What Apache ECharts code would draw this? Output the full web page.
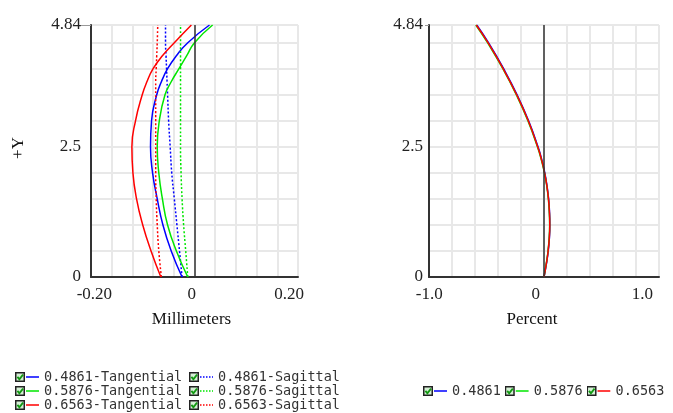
<!DOCTYPE html>
<html>
<head>
<meta charset="utf-8">
<script src="https://cdn.jsdelivr.net/npm/echarts@6/dist/echarts.min.js"></script>
<style>
  html, body { margin: 0; padding: 0; background: #fff; }
  #main { width: 673px; height: 413px; }
</style>
</head>
<body>
<div id="main"></div>
<script>
// field heights (+Y), shared by the field curvature curves
var fieldY = [0, 0.5, 1.0, 1.5, 2.0, 2.5, 3.0, 3.5, 3.75, 4.0, 4.25, 4.5, 4.84];

// field curvature, millimeters
var tan4861 = [-0.024, -0.045, -0.061, -0.072, -0.081, -0.085, -0.083, -0.073, -0.064, -0.052, -0.035, -0.013, 0.029];
var sag4861 = [-0.024, -0.029, -0.034, -0.039, -0.044, -0.047, -0.050, -0.052, -0.053, -0.054, -0.055, -0.056, -0.056];
var tan5876 = [-0.013, -0.035, -0.052, -0.062, -0.069, -0.072, -0.068, -0.057, -0.045, -0.030, -0.015, 0.000, 0.035];
var sag5876 = [-0.013, -0.017, -0.021, -0.024, -0.026, -0.027, -0.027, -0.027, -0.027, -0.027, -0.027, -0.027, -0.027];
var tan6563 = [-0.065, -0.084, -0.100, -0.112, -0.119, -0.121, -0.114, -0.101, -0.092, -0.080, -0.062, -0.039, -0.006];
var sag6563 = [-0.064, -0.069, -0.072, -0.074, -0.075, -0.075, -0.075, -0.075, -0.075, -0.074, -0.073, -0.072, -0.071];

// distortion, percent
var distY = [0, 0.25, 0.5, 0.75, 1.0, 1.25, 1.5, 1.75, 2.0, 2.25, 2.5, 3.0, 3.5, 4.0, 4.5, 4.84];
var dist4861 = [0, 0.021, 0.037, 0.047, 0.051, 0.048, 0.040, 0.026, 0.007, -0.019, -0.052, -0.134, -0.234, -0.351, -0.483, -0.585];
var dist5876 = [0, 0.019, 0.035, 0.045, 0.049, 0.046, 0.038, 0.024, 0.004, -0.023, -0.057, -0.140, -0.241, -0.358, -0.491, -0.593];
var dist6563 = [0, 0.020, 0.036, 0.046, 0.050, 0.047, 0.039, 0.025, 0.005, -0.021, -0.055, -0.137, -0.238, -0.355, -0.487, -0.589];

// tick labels
var yTicks = [0, 2.5, 4.84];
var mmTicks = [-0.2, 0, 0.2];
var pctTicks = [-1.0, 0, 1.0];

var BLUE = '#0000ff', GREEN = '#00e600', RED = '#ff0000';
var SERIF = 'Liberation Serif';

function pairs(xs, ys) {
	return ys.map(function(y, i) { return [xs[i], y]; });
}

// checkbox + line sample, as legend icon
function legendIcon(color, dotted) {
	var dash = dotted ? " stroke-dasharray='1.5,1.5'" : '';
	var svg = "<svg xmlns='http://www.w3.org/2000/svg' width='24' height='10'>" +
		"<rect x='0.75' y='0.75' width='8.5' height='8.5' fill='#d6f0d6' stroke='#222' stroke-width='1.5'/>" +
		"<path d='M2.4 4.8 L4.4 7.2 L8 2.6' fill='none' stroke='#119911' stroke-width='1.8'/>" +
		"<line x1='11' y1='5' x2='24' y2='5' stroke='" + color + "' stroke-width='1.5'" + dash + "/>" +
		"</svg>";
	return 'image://data:image/svg+xml;charset=utf-8,' + encodeURIComponent(svg);
}

function lineSeries(name, xi, xs, ys, color, dotted) {
	return {
		name: name,
		type: 'line',
		xAxisIndex: xi,
		yAxisIndex: xi === 0 ? 0 : 1,
		data: pairs(xs, ys),
		showSymbol: false,
		smooth: true,
		itemStyle: { color: color },
		lineStyle: { color: color, width: 1.5, type: dotted ? [2, 2] : 'solid' }
	};
}

function gridX(gridIndex, min, max, interval) {
	return {
		gridIndex: gridIndex, type: 'value', min: min, max: max, interval: interval,
		axisLine: { show: true, onZero: false, lineStyle: { color: '#333', width: 2 } },
		axisTick: { show: false },
		axisLabel: { show: false },
		splitLine: { show: true, lineStyle: { color: '#e8e8e8', width: 2 } }
	};
}

// axis only for the labels, its range is stretched to put labels where the original has them
function labelX(gridIndex, min, max, ticks, digits, name, shift) {
	return {
		gridIndex: gridIndex, type: 'value', position: 'bottom', min: min, max: max,
		axisLine: { show: false, onZero: false },
		axisTick: { show: false },
		splitLine: { show: false },
		axisLabel: {
			customValues: ticks, margin: 9,
			fontFamily: SERIF, fontSize: 17, color: '#222',
			formatter: function(v) {
				for (var i = 0; i < ticks.length; i++) {
					if (Math.abs(v - ticks[i]) < 1e-9) {
						return ticks[i] === 0 ? '0' : ticks[i].toFixed(digits);
					}
				}
				return '';
			}
		},
		name: name, nameLocation: 'middle', nameGap: 34,
		nameTextStyle: { fontFamily: SERIF, fontSize: 17, color: '#111', padding: [0, shift, 0, 0] }
	};
}

function gridY(gridIndex, margin) {
	return {
		gridIndex: gridIndex, type: 'value', position: 'left', min: 0, max: 4.84, interval: 0.5,
		axisLine: { show: true, onZero: false, lineStyle: { color: '#333', width: 2 } },
		axisTick: { show: false },
		axisLabel: {
			customValues: yTicks, margin: margin,
			fontFamily: SERIF, fontSize: 17, color: '#222',
			formatter: function(v) {
				return yTicks.indexOf(v) >= 0 ? String(v) : '';
			}
		},
		splitLine: { show: true, lineStyle: { color: '#e8e8e8', width: 2 } }
	};
}

// the short gray tick at the top value only
function tickY(gridIndex, len) {
	return {
		gridIndex: gridIndex, type: 'value', position: 'left', min: 0, max: 4.84,
		axisLine: { show: false, onZero: false },
		axisTick: { show: true, customValues: [4.84], length: len, lineStyle: { color: '#999', width: 1 } },
		axisLabel: { show: false },
		splitLine: { show: false }
	};
}

var zeroLine = {
	silent: true, symbol: 'none', animation: false,
	label: { show: false },
	lineStyle: { color: '#333', width: 1.5, type: 'solid' },
	data: [{ xAxis: 0 }]
};

var series = [
	lineSeries('0.4861-Tangential', 0, tan4861, fieldY, BLUE, false),
	lineSeries('0.4861-Sagittal', 0, sag4861, fieldY, BLUE, true),
	lineSeries('0.5876-Tangential', 0, tan5876, fieldY, GREEN, false),
	lineSeries('0.5876-Sagittal', 0, sag5876, fieldY, GREEN, true),
	lineSeries('0.6563-Tangential', 0, tan6563, fieldY, RED, false),
	lineSeries('0.6563-Sagittal', 0, sag6563, fieldY, RED, true),
	lineSeries('0.4861', 2, dist4861, distY, BLUE, false),
	lineSeries('0.5876', 2, dist5876, distY, GREEN, false),
	lineSeries('0.6563', 2, dist6563, distY, RED, false)
];
series[0].markLine = zeroLine;
series[6].markLine = zeroLine;

var legendText = { fontFamily: 'DejaVu Sans Mono', fontSize: 13.5, color: '#333', lineHeight: 14 };

function legendData(names, colors, dotted) {
	return names.map(function(n, i) {
		return { name: n, icon: legendIcon(colors[i], dotted) };
	});
}

var yName = gridY(0, 10);
yName.name = '+Y';
yName.nameLocation = 'middle';
yName.nameRotate = 90;
yName.nameGap = 64;
yName.nameTextStyle = { fontFamily: SERIF, fontSize: 17, color: '#111', padding: [0, 0, 0, 6] };

var option = {
	animation: false,
	backgroundColor: '#fff',
	grid: [
		{ left: 91, top: 25, width: 207, height: 252, show: true, borderColor: '#aaa', borderWidth: 1 },
		{ left: 429, top: 25, width: 230, height: 252, show: true, borderColor: '#aaa', borderWidth: 1 }
	],
	xAxis: [
		gridX(0, -0.2, 0.2, 0.04),
		labelX(0, -0.207, 0.2185, mmTicks, 2, 'Millimeters', 6),
		gridX(1, -1, 1, 0.2),
		labelX(1, -1.002, 1.155, pctTicks, 1, 'Percent', 24)
	],
	yAxis: [
		yName,
		gridY(1, 6),
		tickY(0, 11),
		tickY(1, 4)
	],
	legend: [
		{
			orient: 'vertical', left: 15, top: 370, padding: 0, itemGap: 0, itemWidth: 24, itemHeight: 10,
			textStyle: legendText,
			data: legendData(['0.4861-Tangential', '0.5876-Tangential', '0.6563-Tangential'], [BLUE, GREEN, RED], false)
		},
		{
			orient: 'vertical', left: 189, top: 370, padding: 0, itemGap: 0, itemWidth: 24, itemHeight: 10,
			textStyle: legendText,
			data: legendData(['0.4861-Sagittal', '0.5876-Sagittal', '0.6563-Sagittal'], [BLUE, GREEN, RED], true)
		},
		{
			orient: 'horizontal', left: 423, top: 384, padding: 0, itemGap: 4, itemWidth: 24, itemHeight: 10,
			textStyle: legendText,
			data: legendData(['0.4861', '0.5876', '0.6563'], [BLUE, GREEN, RED], false)
		}
	],
	series: series
};

var chart = echarts.init(document.getElementById('main'));
chart.setOption(option);
</script>
</body>
</html>
